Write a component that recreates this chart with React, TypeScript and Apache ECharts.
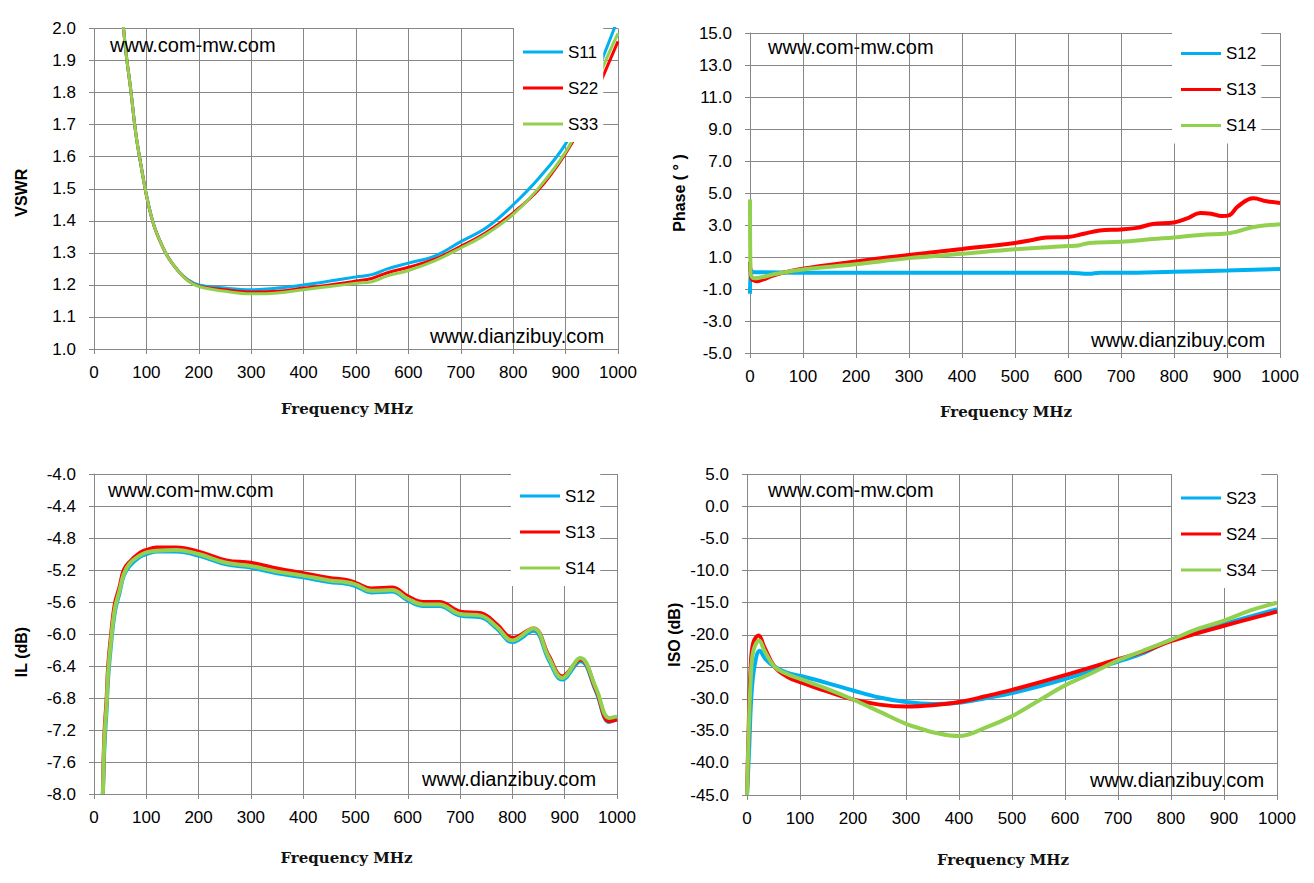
import React, { useEffect, useRef } from 'react';
import * as echarts from 'echarts';

const FONT = "'Liberation Sans', Arial, sans-serif";
const GRID_COLOR = '#878787';
const BLUE = '#00b0f0';
const RED = '#ff0000';
const GREEN = '#92d050';

// VSWR panel
const VSWR_FREQ = [50, 60, 70, 80, 90, 100, 110, 120, 140, 160, 180, 200, 250, 300, 350, 400, 450, 500, 530, 560, 600, 650, 700, 750, 800, 850, 900, 935, 970, 1000];
const VSWR_S11 = [2.12, 1.94, 1.81, 1.67, 1.57, 1.48, 1.41, 1.36, 1.29, 1.245, 1.215, 1.2, 1.19, 1.185, 1.19, 1.2, 1.212, 1.225, 1.232, 1.25, 1.268, 1.29, 1.335, 1.38, 1.45, 1.535, 1.64, 1.76, 1.905, 2.03];
const VSWR_S22 = [2.12, 1.94, 1.81, 1.67, 1.57, 1.48, 1.41, 1.36, 1.29, 1.245, 1.213, 1.197, 1.185, 1.178, 1.18, 1.19, 1.2, 1.212, 1.22, 1.238, 1.255, 1.28, 1.32, 1.365, 1.425, 1.5, 1.61, 1.71, 1.845, 1.96];
const VSWR_S33 = [2.12, 1.94, 1.81, 1.67, 1.57, 1.48, 1.41, 1.36, 1.29, 1.245, 1.212, 1.195, 1.18, 1.172, 1.175, 1.185, 1.195, 1.205, 1.21, 1.228, 1.245, 1.275, 1.315, 1.36, 1.42, 1.505, 1.615, 1.725, 1.875, 1.985];

// Phase panel
const PH_S12_FREQ = [0, 2, 5, 20, 100, 300, 500, 600, 640, 660, 700, 800, 900, 1000];
const PH_S12 = [-1.3, 0.2, 0.05, 0.05, 0.02, 0.02, 0.02, 0.02, -0.05, 0.02, 0.02, 0.08, 0.15, 0.25];
const PH_S13_FREQ = [0, 2, 6, 12, 25, 40, 60, 100, 200, 300, 400, 500, 530, 560, 600, 630, 660, 700, 730, 760, 800, 825, 850, 870, 890, 905, 920, 950, 975, 1000];
const PH_S13 = [0.7, -0.3, -0.45, -0.52, -0.4, -0.2, 0.0, 0.27, 0.72, 1.13, 1.5, 1.88, 2.05, 2.22, 2.25, 2.45, 2.66, 2.72, 2.82, 3.06, 3.16, 3.42, 3.75, 3.7, 3.56, 3.62, 4.15, 4.67, 4.48, 4.38];
const PH_S14_FREQ = [0, 1, 8, 20, 50, 100, 200, 300, 400, 500, 600, 620, 640, 700, 760, 800, 850, 900, 920, 950, 1000];
const PH_S14 = [4.6, 0.0, -0.33, -0.28, -0.05, 0.22, 0.55, 0.93, 1.2, 1.48, 1.68, 1.72, 1.88, 1.95, 2.12, 2.22, 2.38, 2.47, 2.6, 2.87, 3.05];
const PH_TICKS = [-5, -3, -1, 1, 3, 5, 7, 9, 11, 13, 15];

// Insertion loss panel
const IL_FREQ = [17, 20, 24, 27, 33, 40, 49, 57, 68, 87, 100, 120, 157, 200, 253, 300, 350, 400, 450, 480, 500, 530, 570, 600, 630, 660, 700, 740, 770, 800, 840, 870, 895, 930, 960, 985, 1000];
const IL_S12 = [-8.0, -7.4, -6.95, -6.55, -6.1, -5.72, -5.48, -5.27, -5.15, -5.04, -5.0, -4.97, -4.97, -5.02, -5.13, -5.17, -5.24, -5.29, -5.35, -5.37, -5.4, -5.48, -5.47, -5.58, -5.65, -5.65, -5.77, -5.79, -5.93, -6.1, -5.96, -6.33, -6.57, -6.34, -6.72, -7.1, -7.06];
const IL_S13 = [-8.0, -7.24, -6.83, -6.41, -5.99, -5.62, -5.41, -5.2, -5.1, -4.99, -4.95, -4.92, -4.92, -4.97, -5.08, -5.11, -5.18, -5.24, -5.3, -5.32, -5.36, -5.43, -5.42, -5.53, -5.6, -5.6, -5.72, -5.74, -5.88, -6.05, -5.93, -6.28, -6.53, -6.32, -6.7, -7.09, -7.07];
const IL_S14 = [-8.0, -7.3, -6.9, -6.48, -6.05, -5.68, -5.45, -5.25, -5.12, -5.02, -4.98, -4.96, -4.95, -5.0, -5.11, -5.15, -5.22, -5.27, -5.33, -5.35, -5.38, -5.46, -5.45, -5.56, -5.63, -5.63, -5.75, -5.77, -5.91, -6.08, -5.93, -6.3, -6.55, -6.3, -6.68, -7.05, -7.03];

// Isolation panel
const ISO_S23_FREQ = [0, 4, 8, 14, 24, 35, 52, 75, 100, 150, 200, 250, 300, 350, 400, 450, 500, 600, 700, 750, 800, 900, 1000];
const ISO_S23 = [-45, -38, -30, -25, -22.5, -23.8, -25.0, -25.9, -26.4, -27.5, -28.7, -29.8, -30.5, -30.8, -30.6, -29.9, -29.1, -26.9, -24.2, -22.8, -20.8, -18.3, -16.0];
const ISO_S24_FREQ = [0, 3, 7, 12, 22, 32, 52, 75, 100, 150, 200, 250, 300, 350, 400, 450, 500, 600, 700, 750, 800, 900, 1000];
const ISO_S24 = [-45, -35, -25, -21.2, -20.1, -21.8, -25.0, -26.5, -27.4, -28.8, -30.1, -30.9, -31.2, -31.0, -30.5, -29.6, -28.6, -26.3, -23.8, -22.6, -21.0, -18.6, -16.4];
const ISO_S34_FREQ = [0, 3, 7, 12, 23, 33, 52, 75, 100, 150, 200, 250, 300, 326, 350, 400, 450, 500, 550, 600, 650, 700, 750, 800, 850, 900, 950, 1000];
const ISO_S34 = [-45, -36, -27, -22.5, -20.9, -22.5, -25.0, -26.1, -26.9, -28.4, -30.1, -32.0, -33.9, -34.6, -35.2, -35.8, -34.5, -32.7, -30.3, -27.9, -26.0, -24.0, -22.4, -20.8, -19.1, -17.8, -16.2, -15.0];

const pairs = (xs: number[], ys: number[]) => xs.map((x, i) => [x, ys[i]]);

const PANELS = [
  {
    yName: 'VSWR', min: 1, max: 2, interval: 0.1, lineWidth: 3,
    grid: { left: 94, top: 28.5, width: 524, height: 320.5 },
    legend: { left: 514, top: 28 },
    xNameGap: 52, yNameGap: 65, yNameShift: 8,
    series: [
      { name: 'S11', color: BLUE, data: pairs(VSWR_FREQ, VSWR_S11) },
      { name: 'S22', color: RED, data: pairs(VSWR_FREQ, VSWR_S22) },
      { name: 'S33', color: GREEN, data: pairs(VSWR_FREQ, VSWR_S33) },
    ],
  },
  {
    yName: 'Phase ( ° )', min: -5, max: 15, ticks: PH_TICKS, lineWidth: 4,
    grid: { left: 750, top: 33, width: 530, height: 320 },
    legend: { left: 1172, top: 29.5 },
    xNameGap: 51, yNameGap: 63, yNameShift: 0,
    series: [
      { name: 'S12', color: BLUE, data: pairs(PH_S12_FREQ, PH_S12) },
      { name: 'S13', color: RED, data: pairs(PH_S13_FREQ, PH_S13) },
      { name: 'S14', color: GREEN, data: pairs(PH_S14_FREQ, PH_S14) },
    ],
  },
  {
    yName: 'IL (dB)', min: -8, max: -4, interval: 0.4, lineWidth: 4,
    grid: { left: 94, top: 474, width: 523, height: 320 },
    legend: { left: 511, top: 472 },
    xNameGap: 56, yNameGap: 65, yNameShift: 36,
    series: [
      { name: 'S12', color: BLUE, data: pairs(IL_FREQ, IL_S12) },
      { name: 'S13', color: RED, data: pairs(IL_FREQ, IL_S13) },
      { name: 'S14', color: GREEN, data: pairs(IL_FREQ, IL_S14) },
    ],
  },
  {
    yName: 'ISO (dB)', min: -45, max: 5, interval: 5, lineWidth: 4,
    grid: { left: 747, top: 474.5, width: 530, height: 320.5 },
    legend: { left: 1172, top: 474 },
    xNameGap: 57, yNameGap: 65, yNameShift: 0,
    series: [
      { name: 'S23', color: BLUE, data: pairs(ISO_S23_FREQ, ISO_S23) },
      { name: 'S24', color: RED, data: pairs(ISO_S24_FREQ, ISO_S24) },
      { name: 'S34', color: GREEN, data: pairs(ISO_S34_FREQ, ISO_S34) },
    ],
  },
];

const WATERMARKS = [
  { text: 'www.com-mw.com', x: 110, y: 45 },
  { text: 'www.dianzibuy.com', x: 430, y: 336 },
  { text: 'www.com-mw.com', x: 768, y: 47 },
  { text: 'www.dianzibuy.com', x: 1091, y: 340 },
  { text: 'www.com-mw.com', x: 108, y: 490 },
  { text: 'www.dianzibuy.com', x: 422, y: 779 },
  { text: 'www.com-mw.com', x: 768, y: 490 },
  { text: 'www.dianzibuy.com', x: 1090, y: 780 },
];

const App: React.FC = () => {
  const ref = useRef<HTMLDivElement>(null);

  useEffect(() => {
    if (!ref.current) return;
    const chart = echarts.init(ref.current, null, { renderer: 'svg' });

    const lineStyle = { color: GRID_COLOR, width: 1 };

    chart.setOption({
      animation: false,
      backgroundColor: '#fff',
      grid: PANELS.map((p) => ({ ...p.grid, containLabel: false })),
      xAxis: PANELS.map((p, i) => ({
        gridIndex: i,
        type: 'value',
        min: 0,
        max: 1000,
        interval: 100,
        name: 'Frequency MHz',
        nameLocation: 'middle',
        nameGap: p.xNameGap,
        nameTextStyle: {
          fontFamily: "'DejaVu Serif', serif",
          fontWeight: 'bold',
          fontSize: 15,
          color: '#111',
          padding: [0, 18, 0, 0],
        },
        axisLine: { show: true, onZero: false, lineStyle },
        axisTick: { show: true, length: 5, lineStyle },
        axisLabel: {
          margin: 15,
          fontFamily: FONT,
          fontSize: 17,
          color: '#000',
          formatter: (v: number) => String(v),
        },
        splitLine: { show: true, lineStyle },
      })),
      yAxis: PANELS.map((p, i) => ({
        gridIndex: i,
        type: 'value',
        min: p.min,
        max: p.max,
        ...(p.interval ? { interval: p.interval } : {}),
        name: p.yName,
        nameLocation: 'middle',
        nameGap: p.yNameGap,
        nameTextStyle: {
          fontFamily: FONT,
          fontWeight: 'bold',
          fontSize: 16,
          color: '#000',
          padding: [0, p.yNameShift, 0, 0],
        },
        axisLine: { show: true, lineStyle },
        axisTick: { show: true, length: 5, lineStyle, ...(p.ticks ? { customValues: p.ticks } : {}) },
        axisLabel: {
          margin: 18,
          fontFamily: FONT,
          fontSize: 17,
          color: '#000',
          formatter: (v: number) => v.toFixed(1),
          ...(p.ticks ? { customValues: p.ticks } : {}),
        },
        splitLine: { show: true, lineStyle },
      })),
      legend: PANELS.map((p) => ({
        orient: 'vertical',
        left: p.legend.left,
        top: p.legend.top,
        data: p.series.map((s) => ({ name: s.name, icon: 'rect' })),
        backgroundColor: '#fff',
        padding: [14, 5, 8, 9],
        itemGap: 16,
        itemWidth: 40,
        itemHeight: 3,
        selectedMode: false,
        textStyle: { fontFamily: FONT, fontSize: 17, color: '#000', lineHeight: 20 },
        z: 10,
      })),
      graphic: WATERMARKS.map((w) => ({
        type: 'text',
        x: w.x,
        y: w.y,
        z: 5,
        style: {
          text: w.text,
          fontFamily: FONT,
          fontSize: 20,
          fill: '#000',
          verticalAlign: 'middle',
        },
      })),
      series: PANELS.flatMap((p, i) =>
        p.series.map((s) => ({
          type: 'line',
          name: s.name,
          xAxisIndex: i,
          yAxisIndex: i,
          data: s.data,
          symbol: 'none',
          showSymbol: false,
          smooth: 0.4,
          clip: true,
          color: s.color,
          lineStyle: { color: s.color, width: p.lineWidth },
          emphasis: { disabled: true },
        })),
      ),
    });

    return () => {
      chart.dispose();
    };
  }, []);

  return (
    <div
      ref={ref}
      style={{ position: 'absolute', left: 0, top: 0, width: 1314, height: 883 }}
    />
  );
};

export default App;
